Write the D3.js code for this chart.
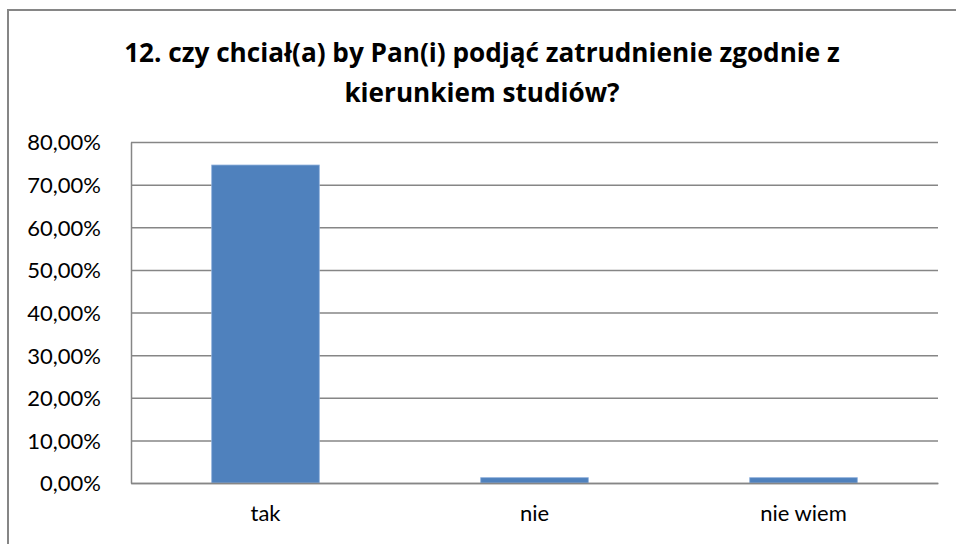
<html><head>
<meta charset="utf-8">
<script src="https://d3js.org/d3.v7.min.js"></script>
<style>
  body { margin: 0; background: #fff; }
  text { font-family: Lato, "Open Sans", sans-serif; fill: #000; }
  .title { font-family: "Open Sans", Lato, sans-serif; font-weight: bold; }
  .grid line { stroke: #868686; stroke-width: 1.5; }
  .grid .domain { stroke: none; }
  .axis .domain { stroke: #868686; stroke-width: 1.5; }
  .axis line { stroke: #868686; }
</style>
</head>
<body>
<svg id="chart" width="956" height="544"></svg>
<script>
// data
const categories = ["tak", "nie", "nie wiem"];
const values = [0.746, 0.0125, 0.0125];
const yTicks = [0, 0.1, 0.2, 0.3, 0.4, 0.5, 0.6, 0.7, 0.8];
const titleLines = ["12. czy chciał(a) by Pan(i) podjąć zatrudnienie zgodnie z", "kierunkiem studiów?"];

let svg = d3.select("svg#chart");
const margins = {"top": 142, "left": 131, "right": 18, "bottom": 61};
const width = +svg.attr("width");
const height = +svg.attr("height");
const chartWidth = width - margins.left - margins.right;
const chartHeight = height - margins.top - margins.bottom;

// outer frame
svg.append("rect")
   .attr("x", 8).attr("y", 10)
   .attr("width", 960).attr("height", 560)
   .attr("fill", "none")
   .attr("stroke", "#868686")
   .attr("stroke-width", 2);

// title
let title = svg.append("text")
   .attr("class", "title")
   .attr("text-anchor", "middle")
   .style("font-size", "24px");
titleLines.forEach((t, i) => {
  title.append("tspan").attr("x", 482).attr("y", 62 + i * 40).text(t);
});
// fit first line to the width it has in the picture
let w = title.select("tspan").node().getComputedTextLength();
title.style("font-size", (24 * 716 / w) + "px");

let chart = svg.append("g").attr("transform", "translate(" + margins.left + "," + margins.top + ")");

const xScale = d3.scaleBand().domain(categories).range([0, chartWidth]).paddingInner(0.6).paddingOuter(0.3);
const yScale = d3.scaleLinear().domain([0, 0.8]).range([chartHeight, 0]);

// gridlines
chart.append("g")
     .attr("class", "grid")
     .call(d3.axisLeft(yScale).tickValues(yTicks).tickFormat("").tickSize(-chartWidth));

// bars
chart.selectAll("rect.bar")
     .data(values)
     .join("rect")
     .attr("class", "bar")
     .attr("x", (d, i) => xScale(categories[i]))
     .attr("y", d => yScale(d))
     .attr("width", xScale.bandwidth())
     .attr("height", d => chartHeight - yScale(d))
     .attr("fill", "#4f81bd")
     .attr("stroke", "#8fb0dc")
     .attr("stroke-width", 0.8);

// y axis
let fmt = d => d3.format(".2f")(d * 100).replace(".", ",") + "%";
let yAxis = chart.append("g")
     .attr("class", "axis")
     .call(d3.axisLeft(yScale).tickValues(yTicks).tickFormat(fmt).tickSize(0).tickSizeOuter(0));
yAxis.selectAll("text").attr("font-size", 22).attr("x", -30).attr("dy", "0.36em");

// x axis baseline
let xAxis = chart.append("g")
     .attr("class", "axis")
     .attr("transform", "translate(0," + chartHeight + ")")
     .call(d3.axisBottom(xScale).tickSize(0).tickSizeOuter(0));
xAxis.select(".domain").attr("stroke-width", 2);
xAxis.selectAll("text").attr("font-size", 22).attr("dy", "1.6em");
</script>
</body>
</html>
